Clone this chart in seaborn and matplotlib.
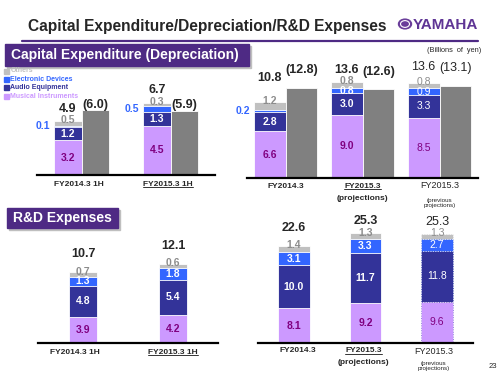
import numpy as np
import pandas as pd
import matplotlib
matplotlib.use("Agg")
import matplotlib.pyplot as plt
import seaborn as sns
from matplotlib.patches import Rectangle, Circle
from matplotlib.lines import Line2D

sns.set_theme(style="white")
plt.rcParams["font.family"] = ["Liberation Sans", "DejaVu Sans"]

# ------------------------------------------------------------
# data (billions of yen)
# ------------------------------------------------------------
segments = ["Others", "Electronic Devices", "Audio Equipment", "Musical Instruments"]

# capital expenditure, first half
capex_h_periods = ["FY2014.3 1H", "FY2015.3 1H"]
capex_h_musical = [3.2, 4.5]
capex_h_audio = [1.2, 1.3]
capex_h_electronic = [0.1, 0.5]
capex_h_others = [0.5, 0.3]
capex_h_total = [4.9, 6.7]
capex_h_dep = [6.0, 5.9]

# capital expenditure, full year
capex_y_periods = ["FY2014.3", "FY2015.3 proj", "FY2015.3 prev"]
capex_y_musical = [6.6, 9.0, 8.5]
capex_y_audio = [2.8, 3.0, 3.3]
capex_y_electronic = [0.2, 0.8, 0.9]
capex_y_others = [1.2, 0.8, 0.8]
capex_y_total = [10.8, 13.6, 13.6]
capex_y_dep = [12.8, 12.6, 13.1]

# R&D, first half
rd_h_periods = ["FY2014.3 1H", "FY2015.3 1H"]
rd_h_musical = [3.9, 4.2]
rd_h_audio = [4.8, 5.4]
rd_h_electronic = [1.3, 1.8]
rd_h_others = [0.7, 0.6]
rd_h_total = [10.7, 12.1]

# R&D, full year
rd_y_periods = ["FY2014.3", "FY2015.3 proj", "FY2015.3 prev"]
rd_y_musical = [8.1, 9.2, 9.6]
rd_y_audio = [10.0, 11.7, 11.8]
rd_y_electronic = [3.1, 3.3, 2.7]
rd_y_others = [1.4, 1.3, 1.3]
rd_y_total = [22.6, 25.3, 25.3]

# ------------------------------------------------------------
# styling
# ------------------------------------------------------------
seg_colors = ["#CC99FF", "#333399", "#3366FF", "#C0C0C0"]   # bottom -> top
seg_text = ["#800080", "white", "white", "#8C8C8C"]
dep_color = "#808080"
purple = "#4E2A84"

W, H = 500, 375
fig = plt.figure(figsize=(5, 3.75), dpi=100)


def fx(x):
    return x / W


def fy(y):
    return 1 - y / H


def px_axes(x0, x1, base, height, scale, xlim):
    ax = fig.add_axes([fx(x0), fy(base), (x1 - x0) / W, height / H])
    ax.set_ylim(0, height / scale)
    ax.set_xlim(*xlim)
    return ax


def draw_stack(ax, cats, layers, width, dep=None):
    n = len(cats)
    cum = np.cumsum(np.array(layers, dtype=float), axis=0)
    # draw tallest cumulative first, then overlay the lower segments
    for k in range(len(layers) - 1, -1, -1):
        if dep is None:
            df = pd.DataFrame({"period": cats, "value": cum[k]})
            sns.barplot(data=df, x="period", y="value", order=cats,
                        color=seg_colors[k], saturation=1, width=width,
                        edgecolor="white", linewidth=0.6, errorbar=None, ax=ax)
        else:
            df = pd.DataFrame({"period": cats + cats,
                               "kind": ["capex"] * n + ["dep"] * n,
                               "value": list(cum[k]) + list(dep)})
            sns.barplot(data=df, x="period", y="value", hue="kind",
                        order=cats, hue_order=["capex", "dep"],
                        palette={"capex": seg_colors[k], "dep": dep_color},
                        saturation=1, dodge=True, width=width,
                        edgecolor="white", linewidth=0.6, errorbar=None,
                        legend=False, ax=ax)
    ax.set_xlabel("")
    ax.set_ylabel("")
    ax.set_xticks([])
    ax.set_yticks([])
    for s in ["left", "right", "top"]:
        ax.spines[s].set_visible(False)
    ax.spines["bottom"].set_color("black")
    ax.spines["bottom"].set_linewidth(1.6)
    return cum


def label_segments(ax, layers, cum, xs, bar_w, prev_idx=None):
    for k, vals in enumerate(layers):
        for i, v in enumerate(vals):
            y = cum[k][i] - v / 2
            w = "normal" if i == prev_idx else "bold"
            if k == 2 and v < 0.6:
                ax.annotate(f"{v:.1f}", (xs[i] - bar_w / 2, y), xytext=(-2.5, 0),
                            textcoords="offset points", ha="right", va="center",
                            color=seg_colors[2], fontsize=7.5, fontweight="bold")
            elif k == 3:
                # "others" label sits on the top edge of the bar
                ax.annotate(f"{v:.1f}", (xs[i], cum[k][i]), xytext=(0, 0.5),
                            textcoords="offset points", ha="center", va="center",
                            color=seg_text[k], fontsize=7.5, fontweight=w)
            else:
                ax.text(xs[i], y, f"{v:.1f}", ha="center", va="center",
                        color=seg_text[k], fontsize=7.5, fontweight=w)


def label_tops(ax, xs, tops, texts, offsets_px, prev_idx=None):
    for i, (x, top, t, off) in enumerate(zip(xs, tops, texts, offsets_px)):
        ax.annotate(t, (x, top), xytext=(0, off * 0.72), textcoords="offset points",
                    ha="center", va="baseline", fontsize=9,
                    fontweight="normal" if i == prev_idx else "bold")


underlined = []


def tick_labels(ax, xs, specs):
    # specs: (text, px below baseline, size, weight, underline)
    for x, items in zip(xs, specs):
        for text, dy, size, weight, ul in items:
            t = ax.annotate(text, (x, 0), xytext=(0, -dy * 0.72), textcoords="offset points",
                            ha="center", va="center", fontsize=size, fontweight=weight,
                            annotation_clip=False, linespacing=1.0)
            if ul:
                underlined.append(t)


# ------------------------------------------------------------
# capex, first half
# ------------------------------------------------------------
ax_tl = px_axes(37, 215, 175, 85, 10.9, (-0.447, 1.447))
layers = [capex_h_musical, capex_h_audio, capex_h_electronic, capex_h_others]
wd = 0.62
cum = draw_stack(ax_tl, capex_h_periods, layers, wd, dep=capex_h_dep)
xs = np.arange(len(capex_h_periods))
label_segments(ax_tl, layers, cum, xs - wd / 4, wd / 2)
label_tops(ax_tl, xs - wd / 4, cum[-1], [f"{v:.1f}" for v in capex_h_total], [9, 10])
label_tops(ax_tl, xs + wd / 4, capex_h_dep, [f"({v:.1f})" for v in capex_h_dep], [2, 3])
tick_labels(ax_tl, xs - 0.03, [[("FY2014.3 1H", 9, 6, "bold", False)],
                               [("FY2015.3 1H", 9, 6, "bold", True)]])

# ------------------------------------------------------------
# capex, full year
# ------------------------------------------------------------
ax_tr = px_axes(247, 478, 178, 110, 7.05, (-0.532, 2.468))
layers = [capex_y_musical, capex_y_audio, capex_y_electronic, capex_y_others]
wd = 0.83
cum = draw_stack(ax_tr, capex_y_periods, layers, wd, dep=capex_y_dep)
xs = np.arange(len(capex_y_periods))
label_segments(ax_tr, layers, cum, xs - wd / 4, wd / 2, prev_idx=2)
label_tops(ax_tr, xs - wd / 4, cum[-1], [f"{v:.1f}" for v in capex_y_total], [21, 9, 13], prev_idx=2)
label_tops(ax_tr, xs + wd / 4, capex_y_dep, [f"({v:.1f})" for v in capex_y_dep], [15, 14, 15], prev_idx=2)
tick_labels(ax_tr, xs, [[("FY2014.3", 8, 6, "bold", False)],
                        [("FY2015.3", 8, 6, "bold", True), ("(projections)", 20, 6, "bold", False)],
                        [("FY2015.3", 8, 6.5, "normal", False),
                         ("(previous\nprojections)", 25, 4.5, "normal", False)]])

# ------------------------------------------------------------
# R&D, first half
# ------------------------------------------------------------
ax_bl = px_axes(38, 218, 343, 95, 6.6, (-0.489, 1.426))
layers = [rd_h_musical, rd_h_audio, rd_h_electronic, rd_h_others]
wd = 0.31
cum = draw_stack(ax_bl, rd_h_periods, layers, wd)
xs = np.arange(len(rd_h_periods))
label_segments(ax_bl, layers, cum, xs, wd)
label_tops(ax_bl, xs, cum[-1], [f"{v:.1f}" for v in rd_h_total], [15, 15])
tick_labels(ax_bl, xs + np.array([-0.085, 0]), [[("FY2014.3 1H", 9, 6, "bold", False)],
                                                [("FY2015.3 1H", 9, 6, "bold", True)]])

# ------------------------------------------------------------
# R&D, full year
# ------------------------------------------------------------
ax_br = px_axes(258, 473, 343, 125, 4.3, (-0.416, 2.377))
layers = [rd_y_musical, rd_y_audio, rd_y_electronic, rd_y_others]
wd = 0.44
cum = draw_stack(ax_br, rd_y_periods, layers, wd)
xs = np.arange(len(rd_y_periods))
label_segments(ax_br, layers, cum, xs, wd, prev_idx=2)
label_tops(ax_br, xs, cum[-1], [f"{v:.1f}" for v in rd_y_total], [15, 9, 9], prev_idx=2)
for p in ax_br.patches:
    if abs(p.get_x() + p.get_width() / 2 - 2) < 0.01:
        p.set_linestyle((0, (2, 1.5)))
        p.set_linewidth(0.5)
tick_labels(ax_br, xs + np.array([0.05, -0.03, -0.05]),
            [[("FY2014.3", 8, 6, "bold", False)],
             [("FY2015.3", 8, 6, "bold", True), ("(projections)", 20, 6, "bold", False)],
             [("FY2015.3", 8, 6.5, "normal", False),
              ("(previous\nprojections)", 23, 4.5, "normal", False)]])

# ------------------------------------------------------------
# slide decorations
# ------------------------------------------------------------
fig.text(fx(28), fy(26), "Capital Expenditure/Depreciation/R&D Expenses",
         ha="left", va="center", fontsize=11.2, fontweight="bold")
fig.add_artist(Line2D([fx(22), fx(478)], [fy(41), fy(41)], color=purple, lw=1.6))

fig.add_artist(Circle((fx(405), fy(24)), 6.5 / W, transform=fig.transFigure,
                      color="#6A3D9A"))
fig.add_artist(Circle((fx(405), fy(24)), 4.5 / W, transform=fig.transFigure,
                      facecolor="none", edgecolor="white", lw=0.8))
fig.text(fx(413), fy(25), "YAMAHA", ha="left", va="center", fontsize=11,
         fontweight="bold", color="#5F3595")

fig.text(fx(481), fy(50), "(Billions  of  yen)", ha="right", va="center", fontsize=5.3)

for x0, x1, y0, y1, txt in [(5, 249, 44, 66, "Capital Expenditure (Depreciation)"),
                            (7, 118, 208, 228, "R&D Expenses")]:
    fig.add_artist(Rectangle((fx(x0 + 2), fy(y1 + 2)), (x1 - x0) / W, (y1 - y0) / H,
                             transform=fig.transFigure, color="#BFBFBF", zorder=1))
    fig.add_artist(Rectangle((fx(x0), fy(y1)), (x1 - x0) / W, (y1 - y0) / H,
                             transform=fig.transFigure, color=purple, zorder=2))
    fig.text(fx(x0 + 6), fy((y0 + y1) / 2), txt, ha="left", va="center",
             color="white", fontsize=10, fontweight="bold", zorder=3)

legend_colors = ["#C0C0C0", "#3366FF", "#333399", "#CC99FF"]
for i, (name, c) in enumerate(zip(segments, legend_colors)):
    yc = 71 + i * 8.4
    fig.add_artist(Rectangle((fx(4), fy(yc + 2.5)), 5 / W, 5 / H,
                             transform=fig.transFigure, color=c))
    fig.text(fx(10.5), fy(yc), name, ha="left", va="center", fontsize=5,
             fontweight="bold", color=c)

fig.text(fx(493), fy(366), "23", ha="center", va="center", fontsize=5.5)

# underlines under selected tick labels
fig.canvas.draw()
renderer = fig.canvas.get_renderer()
inv = fig.transFigure.inverted()
for t in underlined:
    bb = t.get_window_extent(renderer)
    (ax0, ay0), (ax1, _) = inv.transform([(bb.x0, bb.y0 + 0.5), (bb.x1, bb.y0)])
    fig.add_artist(Line2D([ax0, ax1], [ay0, ay0], color="#333333", lw=0.7))

fig.savefig("out.png", dpi=100)
